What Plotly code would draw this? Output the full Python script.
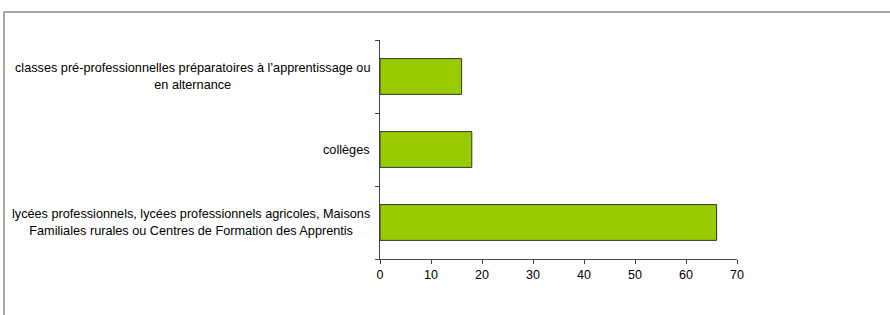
import plotly.graph_objects as go

categories = [
    "lycées professionnels, lycées professionnels agricoles, Maisons<br>Familiales rurales ou Centres de Formation des Apprentis",
    "collèges",
    "classes pré-professionnelles préparatoires à l’apprentissage ou<br>en alternance",
]
values = [66, 18, 16]
x_ticks = [0, 10, 20, 30, 40, 50, 60, 70]

W, H = 890, 315
ml, mr, mt, mb = 380, 153, 40, 56
FONT = "Liberation Sans, Arial, sans-serif"

fig = go.Figure()
fig.add_trace(go.Bar(
    y=list(range(len(categories))), x=values, orientation="h",
    marker=dict(color="#99CC00", line=dict(color="#333333", width=1)),
    width=0.49, showlegend=False, hoverinfo="x",
))

annotations = []
for i, c in enumerate(categories):
    annotations.append(dict(
        x=0, xref="paper", y=i, yref="y", text=c, showarrow=False,
        xanchor="right", yanchor="middle", align="center", xshift=-8,
        font=dict(family=FONT, size=12.7, color="#000000"),
    ))

pw = W - ml - mr
ph = H - mt - mb
x0 = (4 - ml) / pw
y1 = 1 + (mt - 12) / ph
shapes = [dict(type="rect", xref="paper", yref="paper",
               x0=x0, x1=(W + 10 - ml) / pw, y0=-(mb + 10) / ph, y1=y1,
               line=dict(color="#8c8c8c", width=1.5), fillcolor="rgba(0,0,0,0)", layer="below")]

fig.update_layout(
    width=W, height=H,
    margin=dict(l=ml, r=mr, t=mt, b=mb, pad=0),
    paper_bgcolor="white", plot_bgcolor="white",
    font=dict(family=FONT, size=12, color="#000000"),
    xaxis=dict(range=[0, 70], tickvals=x_ticks, ticks="outside", ticklen=4,
               tickcolor="#444444", showline=True, linecolor="#444444", linewidth=1,
               showgrid=False, zeroline=False, fixedrange=True,
               tickfont=dict(size=12.5)),
    yaxis=dict(range=[-0.5, 2.5], tickvals=[-0.5, 0.5, 1.5, 2.5], ticktext=["", "", "", ""],
               ticks="outside", ticklen=4, tickcolor="#444444",
               showline=True, linecolor="#444444", linewidth=1,
               showgrid=False, zeroline=False, fixedrange=True),
    annotations=annotations,
    shapes=shapes,
)

fig.write_html("out.html", config={"displayModeBar": False},
               post_script="document.body.style.margin='0';document.body.style.overflow='hidden';")
